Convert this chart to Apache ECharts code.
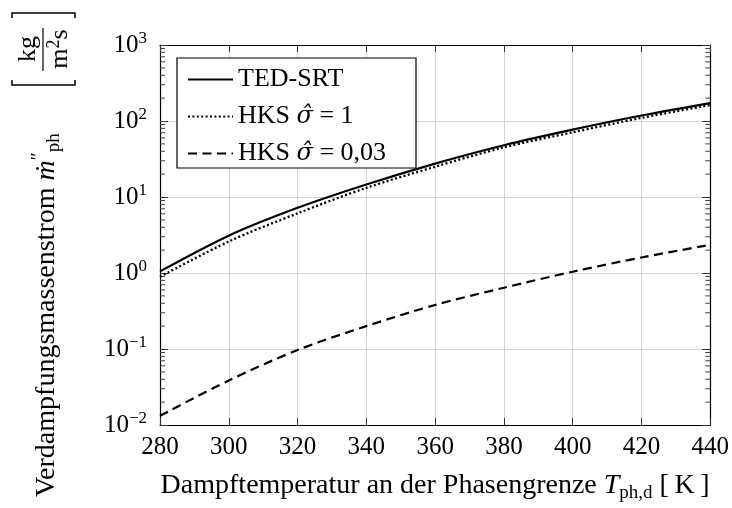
<!DOCTYPE html>
<html><head><meta charset="utf-8">
<script src="https://cdn.jsdelivr.net/npm/echarts@6/dist/echarts.min.js"></script>
<style>html,body{margin:0;padding:0;background:#fff}#c{width:732px;height:508px}</style>
</head><body><div id="c"></div>
<script>
// ---- data ----
const temperatures = [280, 300, 320, 340, 360, 380, 400, 420, 440];
const tedSrt      = [1.05, 3.1, 7.2, 14.6, 27.5, 48, 77, 118, 172];
const hksSigma1   = [0.89, 2.6, 6.1, 13.2, 25, 45, 71, 110, 162];
const hksSigma003 = [0.0132, 0.0385, 0.097, 0.2, 0.38, 0.64, 1.04, 1.6, 2.35];
const seriesNames = ['TED-SRT', 'HKS σ̂ = 1', 'HKS σ̂ = 0,03'];
const xMin = 280, xMax = 440, xStep = 20;
const yMin = 0.01, yMax = 1000;
const minorMultipliers = [2, 3, 4, 5, 6, 7, 8, 9];
const minorDecades = [0.01, 0.1, 1, 10, 100];
const xTitle = 'Dampftemperatur an der Phasengrenze {i|T}{sb|ph,d} [\u2009K\u2009]';
const yTitle = 'Verdampfungsmassenstrom {i|ṁ}{sp|″}{sb|ph}';
const unitNum = 'kg', unitDen = 'm{sp|2}s';

const FONT = '"Liberation Serif", "DejaVu Serif", serif';
const minorTickValues = [];
minorDecades.forEach(d => minorMultipliers.forEach(m => minorTickValues.push(m * d)));

const zip = arr => temperatures.map((t, i) => [t, arr[i]]);
const subSup = {
  i: {fontFamily: FONT, fontStyle: 'italic', fontSize: 28, lineHeight: 34, color: '#000'},
  sp: {fontFamily: FONT, fontSize: 19, lineHeight: 19, verticalAlign: 'top', color: '#000'},
  sb: {fontFamily: FONT, fontSize: 19, lineHeight: 19, verticalAlign: 'bottom', color: '#000'}
};
function yLabel(v) {
  const e = Math.round(Math.log10(v));
  return '{b|10}{s|' + (e < 0 ? '\u2212' + (-e) : e) + '}';
}
const lineBase = {type: 'line', symbol: 'none', smooth: 0.3, z: 5};

const chart = echarts.init(document.getElementById('c'), null, {renderer: 'canvas'});
chart.setOption({
  animation: false,
  backgroundColor: '#fff',
  grid: {left: 160, right: 21, top: 45, bottom: 73},
  legend: {
    orient: 'vertical', left: 177, top: 58, padding: [7, 10, 4, 10],
    itemWidth: 45, itemHeight: 14, itemGap: 8, z: 6,
    data: seriesNames,
    itemStyle: {opacity: 0},
    formatter: n => n.replace('σ̂', '{i|σ̂}'),
    textStyle: {fontFamily: FONT, fontSize: 26, lineHeight: 29, color: '#000',
      rich: {i: {fontFamily: '"DejaVu Serif", serif', fontStyle: 'italic', fontSize: 24, lineHeight: 29}}}
  },
  xAxis: [{
    type: 'value', min: xMin, max: xMax, interval: xStep, position: 'bottom',
    axisLine: {show: true, onZero: false, lineStyle: {color: '#000', width: 1.2}},
    axisTick: {show: true, inside: true, length: 7, lineStyle: {color: '#333'}},
    axisLabel: {fontFamily: FONT, fontSize: 25, color: '#000', margin: 10},
    splitLine: {show: true, lineStyle: {color: '#d4d4d4', width: 1}},
    name: xTitle, nameLocation: 'middle', nameGap: 44,
    nameTextStyle: {fontFamily: FONT, fontSize: 28, lineHeight: 34, color: '#000', rich: subSup}
  }, {
    type: 'value', min: xMin, max: xMax, interval: xStep, position: 'top',
    axisLine: {show: true, onZero: false, lineStyle: {color: '#000', width: 1.2}},
    axisTick: {show: true, inside: true, length: 7, lineStyle: {color: '#333'}},
    axisLabel: {show: false}, splitLine: {show: false}
  }],
  yAxis: [{
    type: 'log', logBase: 10, min: yMin, max: yMax, splitNumber: 5, position: 'left',
    axisLine: {show: true, onZero: false, lineStyle: {color: '#000', width: 1.2}},
    axisTick: {show: true, inside: true, length: 8, lineStyle: {color: '#333'}},
    axisLabel: {formatter: yLabel, margin: 13, color: '#000',
      rich: {b: {fontFamily: FONT, fontSize: 25, lineHeight: 30, color: '#000'},
             s: {fontFamily: FONT, fontSize: 17, lineHeight: 17, verticalAlign: 'top', color: '#000'}}},
    splitLine: {show: true, lineStyle: {color: '#d4d4d4', width: 1}}
  }, {
    type: 'log', logBase: 10, min: yMin, max: yMax, splitNumber: 5, position: 'right',
    axisLine: {show: true, onZero: false, lineStyle: {color: '#000', width: 1.2}},
    axisTick: {show: true, inside: true, length: 8, lineStyle: {color: '#333'}},
    axisLabel: {show: false}, splitLine: {show: false}
  }],
  series: [
    Object.assign({}, lineBase, {name: seriesNames[0], data: zip(tedSrt),
      lineStyle: {color: '#000', width: 2.2, type: 'solid'}, itemStyle: {color: '#000'}}),
    Object.assign({}, lineBase, {name: seriesNames[1], data: zip(hksSigma1),
      lineStyle: {color: '#000', width: 2.3, type: [2, 2.4]}, itemStyle: {color: '#000'}}),
    Object.assign({}, lineBase, {name: seriesNames[2], data: zip(hksSigma003),
      lineStyle: {color: '#000', width: 2.2, type: [9, 5.5]}, itemStyle: {color: '#000'}}),
    {
      type: 'custom', name: 'minorTicks', silent: true, clip: false, z: 4,
      data: minorTickValues.map(v => [xMin, v]),
      encode: {x: 0, y: 1},
      renderItem: (params, api) => {
        const v = api.value(1);
        const l = api.coord([xMin, v]);
        const r = api.coord([xMax, v]);
        const st = {stroke: '#444', lineWidth: 1};
        return {type: 'group', children: [
          {type: 'line', shape: {x1: l[0], y1: l[1], x2: l[0] + 5, y2: l[1]}, style: st},
          {type: 'line', shape: {x1: r[0], y1: r[1], x2: r[0] - 5, y2: r[1]}, style: st}
        ]};
      }
    }
  ],
  graphic: [
    {type: 'rect', z: 5, shape: {x: 177, y: 58, width: 239, height: 110},
     style: {fill: '#fff', stroke: '#000', lineWidth: 1.2}},
    {type: 'text', x: 47, y: 497, rotation: Math.PI / 2,
     style: {text: yTitle, fontFamily: FONT, fontSize: 28, lineHeight: 34, fill: '#000',
       align: 'left', verticalAlign: 'middle', rich: subSup}},
    {type: 'text', x: 28, y: 49, rotation: Math.PI / 2,
     style: {text: unitNum, fontFamily: FONT, fontSize: 26, fill: '#000', align: 'center', verticalAlign: 'middle'}},
    {type: 'text', x: 60, y: 49, rotation: Math.PI / 2,
     style: {text: unitDen, fontFamily: FONT, fontSize: 26, lineHeight: 30, fill: '#000', align: 'center', verticalAlign: 'middle',
       rich: {sp: {fontFamily: FONT, fontSize: 18, lineHeight: 18, verticalAlign: 'top'}}}},
    {type: 'line', shape: {x1: 43, y1: 28, x2: 43, y2: 71}, style: {stroke: '#000', lineWidth: 1.2}},
    {type: 'polyline', shape: {points: [[12, 80], [12, 85], [75, 85], [75, 80]]}, style: {stroke: '#000', lineWidth: 1.5, fill: null}},
    {type: 'polyline', shape: {points: [[12, 18], [12, 13], [75, 13], [75, 18]]}, style: {stroke: '#000', lineWidth: 1.5, fill: null}}
  ]
});
</script>
</body></html>
